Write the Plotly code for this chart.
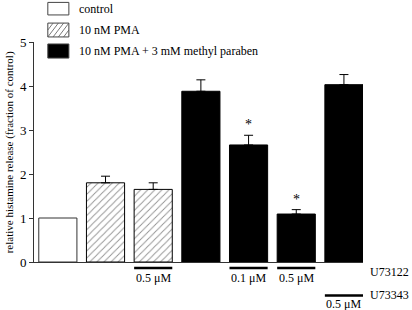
import plotly.graph_objects as go

# ---- data ----
positions = [0, 1, 2, 3, 4, 5, 6]
groups = ["control", "PMA", "PMA", "PMA+MP", "PMA+MP", "PMA+MP", "PMA+MP"]
values = [1.0, 1.8, 1.65, 3.88, 2.66, 1.09, 4.03]
errors_up = [0.0, 0.15, 0.15, 0.26, 0.22, 0.1, 0.23]
significant = [False, False, False, False, True, True, False]

legend_labels = ["control", "10 nM PMA", "10 nM PMA + 3 mM methyl paraben"]
group_keys = ["control", "PMA", "PMA+MP"]

u73122_bars = [2, 4, 5]
u73122_labels = ["0.5 μM", "0.1 μM", "0.5 μM"]
u73343_bars = [6]
u73343_labels = ["0.5 μM"]
row_names = ["U73122", "U73343"]
y_title = "relative histamine release (fraction of control)"

FONT = "Liberation Serif, Times New Roman, serif"

styles = {
    "control": dict(color="white", line="#333", pattern=None),
    "PMA": dict(color="white", line="black",
                pattern=dict(shape="/", fgcolor="#222", bgcolor="white", size=5, solidity=0.18)),
    "PMA+MP": dict(color="black", line="black", pattern=None),
}

fig = go.Figure()
for key in group_keys:
    idx = [i for i, g in enumerate(groups) if g == key]
    st = styles[key]
    marker = dict(color=st["color"], line=dict(color=st["line"], width=1))
    if st["pattern"]:
        marker["pattern"] = st["pattern"]
    errs = [errors_up[i] for i in idx]
    fig.add_trace(go.Bar(
        x=[positions[i] for i in idx],
        y=[values[i] for i in idx],
        width=0.8,
        marker=marker,
        error_y=dict(type="data", symmetric=False,
                     array=errs, arrayminus=[0] * len(idx),
                     visible=any(e > 0 for e in errs), color="black", thickness=1, width=4.5),
        showlegend=False,
        hoverinfo="skip",
    ))

annotations = []
shapes = []

# significance stars
for i, s in enumerate(significant):
    if s:
        annotations.append(dict(x=positions[i], y=values[i] + errors_up[i], xref="x", yref="y",
                                text="*", showarrow=False, yanchor="bottom", yshift=1,
                                font=dict(family=FONT, size=14, color="black")))

# underline rows
def add_row(bars, labels, y_line, y_text):
    for b, lab in zip(bars, labels):
        shapes.append(dict(type="line", xref="x", yref="paper",
                           x0=positions[b] - 0.4, x1=positions[b] + 0.4,
                           y0=y_line, y1=y_line, line=dict(color="black", width=2.5)))
        annotations.append(dict(x=positions[b], y=y_text, xref="x", yref="paper",
                                text=lab, showarrow=False, yanchor="middle",
                                font=dict(family=FONT, size=12, color="black")))

add_row(u73122_bars, u73122_labels, -0.027, -0.072)
add_row(u73343_bars, u73343_labels, -0.152, -0.192)

annotations.append(dict(x=1.015, y=-0.045, xref="paper", yref="paper", text=row_names[0],
                        showarrow=False, xanchor="left", yanchor="middle",
                        font=dict(family=FONT, size=12, color="black")))
annotations.append(dict(x=1.015, y=-0.15, xref="paper", yref="paper", text=row_names[1],
                        showarrow=False, xanchor="left", yanchor="middle",
                        font=dict(family=FONT, size=12, color="black")))

# y-axis title
annotations.append(dict(x=-0.075, y=0.5, xref="paper", yref="paper", text=y_title,
                        textangle=-90, showarrow=False, xanchor="center", yanchor="middle",
                        font=dict(family=FONT, size=11, color="black")))

# manual legend
leg_y = [(1.18, 1.123), (1.086, 1.023), (0.991, 0.927)]
bx0, bx1 = 0.042, 0.106
for (y1, y0), key, lab in zip(leg_y, group_keys, legend_labels):
    st = styles[key]
    shapes.append(dict(type="rect", xref="paper", yref="paper", x0=bx0, x1=bx1,
                       y0=y0, y1=y1, fillcolor=st["color"],
                       line=dict(color="#444", width=1)))
    if key == "PMA":
        for k in range(9):
            t0 = -0.75 + k * 0.25
            xa, ya, xb, yb = t0, 0.0, t0 + 0.5, 1.0
            if xa < 0:
                ya = -xa / 0.5; xa = 0
            if xb > 1:
                yb = 1 - (xb - 1) / 0.5; xb = 1
            if ya >= 1 or xa >= 1 or yb <= 0:
                continue
            shapes.append(dict(type="line", xref="paper", yref="paper",
                               x0=bx0 + xa * (bx1 - bx0), x1=bx0 + xb * (bx1 - bx0),
                               y0=y0 + ya * (y1 - y0), y1=y0 + yb * (y1 - y0),
                               line=dict(color="#555", width=0.8)))
    annotations.append(dict(x=0.13, y=(y0 + y1) / 2, xref="paper", yref="paper", text=lab,
                            showarrow=False, xanchor="left", yanchor="middle",
                            font=dict(family=FONT, size=12, color="black")))

fig.update_layout(
    width=412, height=310,
    margin=dict(l=34, r=49, t=42, b=48, autoexpand=False),
    paper_bgcolor="white", plot_bgcolor="white",
    font=dict(family=FONT, size=12, color="black"),
    hovermode=False,
    xaxis=dict(range=[-0.5, 6.4], showticklabels=False, ticks="", showgrid=False,
               zeroline=False, showline=True, linecolor="#333", linewidth=1,
               fixedrange=True, automargin=False),
    yaxis=dict(range=[0, 5], tickvals=[0, 1, 2, 3, 4, 5], ticks="outside", ticklen=4,
               tickcolor="#333", showgrid=False, zeroline=False, showline=True,
               linecolor="#333", linewidth=1, automargin=False, fixedrange=True,
               tickfont=dict(family=FONT, size=13)),
    annotations=annotations,
    shapes=shapes,
)

fig.write_html("out.html", config={"displayModeBar": False, "staticPlot": True},
               post_script="document.body.style.margin='0';document.body.style.overflow='hidden';")
